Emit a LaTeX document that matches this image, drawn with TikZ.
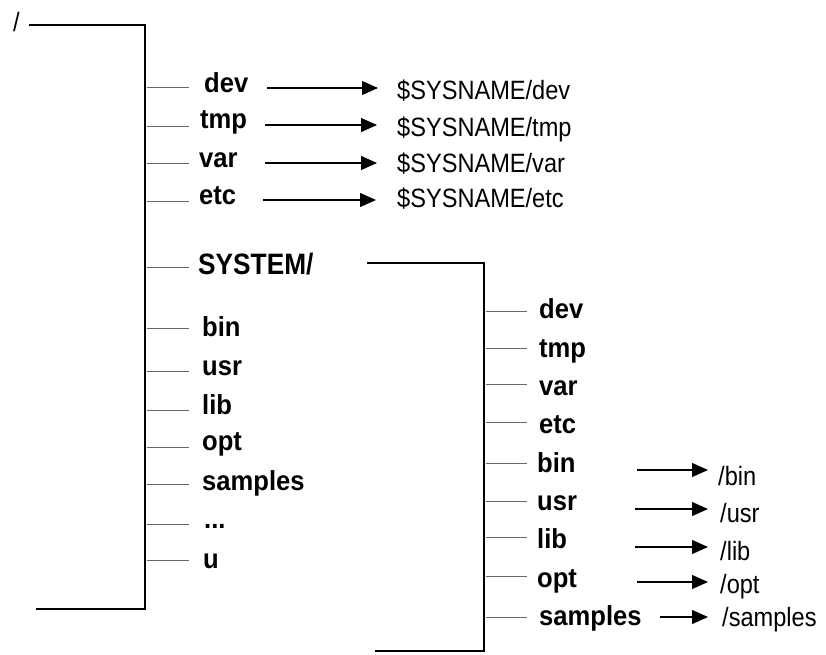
\documentclass[tikz,border=0pt]{standalone}
\usepackage{fontspec}
\setmainfont{Liberation Sans}
\newfontfamily\labelfont{Liberation Sans}[FakeStretch=0.93]
\newfontfamily\heavyfont{Liberation Sans}[FakeStretch=0.89]
\newfontfamily\pathfont{Liberation Sans}[FakeStretch=0.89]
\usetikzlibrary{arrows.meta}
\begin{document}
\begin{tikzpicture}[x=1pt,y=-1pt,
  trunk/.style={line width=2pt, black},
  twig/.style={line width=1pt, black!60},
  link/.style={line width=1.1pt, black, -{Triangle[length=16pt,width=14pt]}},
  dirname/.style={anchor=base west, inner sep=0pt, font=\fontsize{27.5}{30}\labelfont\bfseries},
  sysname/.style={anchor=base west, inner sep=0pt, font=\fontsize{29.5}{32}\heavyfont\bfseries},
  target/.style={anchor=base west, inner sep=0pt, font=\fontsize{26.5}{29}\pathfont}]
\useasboundingbox (0,0) rectangle (826,654);

% root directory and its bracket
\node[target] (root) at (13,31) {/};
\coordinate (ra) at (29,25);
\coordinate (rb) at (145,25);
\coordinate (rc) at (145,609);
\coordinate (rd) at (36,609);
\draw[trunk] (ra) -- (rb) -- (rc) -- (rd);

% entries of the root directory: name / tick y
\foreach \n/\t in {dev/87, tmp/126, var/163, etc/201,
                   bin/328, usr/371, lib/410, opt/447,
                   samples/484, dots/524, u/560}{
  \coordinate (t1-\n) at (147,\t);
  \coordinate (e1-\n) at (189,\t);
  \draw[twig] (t1-\n) -- (e1-\n);
}
\node[dirname] (d1-dev) at (204,92) {dev};
\node[dirname] (d1-tmp) at (200,128) {tmp};
\node[dirname] (d1-var) at (199,167) {var};
\node[dirname] (d1-etc) at (199,204) {etc};
\node[dirname] (d1-bin) at (202,336) {bin};
\node[dirname] (d1-usr) at (202,375) {usr};
\node[dirname] (d1-lib) at (202,414) {lib};
\node[dirname] (d1-opt) at (202,450) {opt};
\node[dirname] (d1-samples) at (202,490) {samples};
\node[dirname] (d1-dots) at (204,528) {...};
\node[dirname] (d1-u) at (203,568) {u};

% SYSTEM/ entry and its own bracket
\coordinate (t1-sys) at (147,267);
\coordinate (e1-sys) at (189,267);
\draw[twig] (t1-sys) -- (e1-sys);
\node[sysname] (d1-sys) at (198,274) {SYSTEM/};
\coordinate (sa) at (367,263);
\coordinate (sb) at (484,263);
\coordinate (sc) at (484,651);
\coordinate (sd) at (375,651);
\draw[trunk] (sa) -- (sb) -- (sc) -- (sd);

% links from the root entries to the system-specific locations
\foreach \n/\s/\e/\y in {dev/267/378/88, tmp/265/377/125, var/265/377/163, etc/263/376/200}{
  \coordinate (ls-\n) at (\s,\y);
  \coordinate (le-\n) at (\e,\y);
  \draw[link] (ls-\n) -- (le-\n);
}
\node[target] (sn-dev) at (397,99) {\$SYSNAME/dev};
\node[target] (sn-tmp) at (397,136) {\$SYSNAME/tmp};
\node[target] (sn-var) at (397,172) {\$SYSNAME/var};
\node[target] (sn-etc) at (397,207) {\$SYSNAME/etc};

% entries of SYSTEM/
\foreach \n/\t in {dev/311, tmp/348, var/384, etc/422, bin/463, usr/501, lib/537, opt/576, samples/617}{
  \coordinate (t2-\n) at (486,\t);
  \coordinate (e2-\n) at (527,\t);
  \draw[twig] (t2-\n) -- (e2-\n);
}
\node[dirname] (d2-dev) at (539,318) {dev};
\node[dirname] (d2-tmp) at (539,357) {tmp};
\node[dirname] (d2-var) at (539,395) {var};
\node[dirname] (d2-etc) at (539,433) {etc};
\node[dirname] (d2-bin) at (537,472) {bin};
\node[dirname] (d2-usr) at (537,510) {usr};
\node[dirname] (d2-lib) at (537,548) {lib};
\node[dirname] (d2-opt) at (537,587) {opt};
\node[dirname] (d2-samples) at (539,625) {samples};

% links from SYSTEM/ entries to the shared top-level directories
\foreach \n/\s/\y in {bin/637/470, usr/635/509, lib/635/547, opt/637/582, samples/660/617}{
  \coordinate (ms-\n) at (\s,\y);
  \coordinate (me-\n) at (708,\y);
  \draw[link] (ms-\n) -- (me-\n);
}
\node[target] (tg-bin) at (718,485) {/bin};
\node[target] (tg-usr) at (720,522) {/usr};
\node[target] (tg-lib) at (720,560) {/lib};
\node[target] (tg-opt) at (720,593) {/opt};
\node[target] (tg-samples) at (722,626) {/samples};
\end{tikzpicture}
\end{document}
